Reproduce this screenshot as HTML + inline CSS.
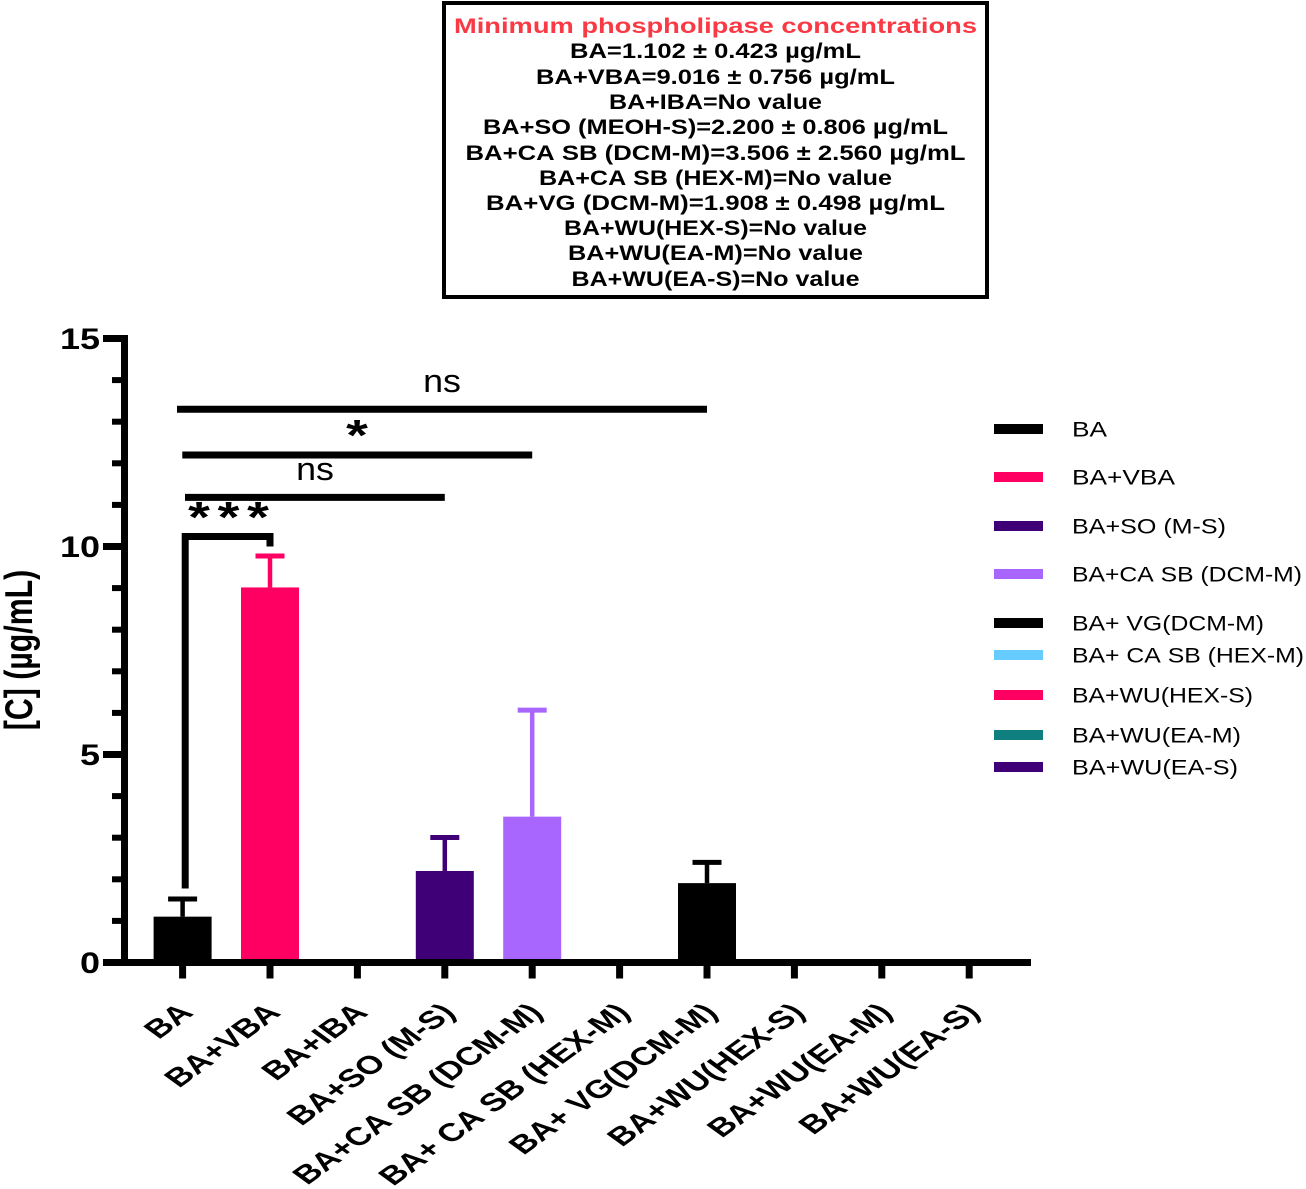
<!DOCTYPE html>
<html lang="en">
<head>
<meta charset="utf-8">
<title>Minimum phospholipase concentrations</title>
<style>
html,body{margin:0;padding:0;background:#fff}
svg{display:block}
text{font-family:"Liberation Sans",Arial,sans-serif;fill:#000;font-kerning:none}
</style>
</head>
<body>
<svg id="chart" xmlns="http://www.w3.org/2000/svg" width="1306" height="1189" viewBox="0 0 1306 1189">
  <rect x="0" y="0" width="1306" height="1189" fill="#fff"/>
  <g font-weight="700" font-size="21" text-anchor="middle">
    <rect x="444" y="3" width="543" height="294" fill="#fff" stroke="#000" stroke-width="4"/>
    <g transform="translate(0,0.8)">
    <text x="715.5" y="32" textLength="523" lengthAdjust="spacingAndGlyphs" style="fill:#f93a45">Minimum phospholipase concentrations</text>
    <text x="715.5" y="57" textLength="291" lengthAdjust="spacingAndGlyphs">BA=1.102 ± 0.423 µg/mL</text>
    <text x="715.5" y="83" textLength="359" lengthAdjust="spacingAndGlyphs">BA+VBA=9.016 ± 0.756 µg/mL</text>
    <text x="715.5" y="108" textLength="213" lengthAdjust="spacingAndGlyphs">BA+IBA=No value</text>
    <text x="715.5" y="133" textLength="465" lengthAdjust="spacingAndGlyphs">BA+SO (MEOH-S)=2.200 ± 0.806 µg/mL</text>
    <text x="715.5" y="159" textLength="500" lengthAdjust="spacingAndGlyphs">BA+CA SB (DCM-M)=3.506 ± 2.560 µg/mL</text>
    <text x="715.5" y="184" textLength="353" lengthAdjust="spacingAndGlyphs">BA+CA SB (HEX-M)=No value</text>
    <text x="715.5" y="209" textLength="459" lengthAdjust="spacingAndGlyphs">BA+VG (DCM-M)=1.908 ± 0.498 µg/mL</text>
    <text x="715.5" y="234" textLength="303" lengthAdjust="spacingAndGlyphs">BA+WU(HEX-S)=No value</text>
    <text x="715.5" y="259" textLength="295" lengthAdjust="spacingAndGlyphs">BA+WU(EA-M)=No value</text>
    <text x="715.5" y="285" textLength="288" lengthAdjust="spacingAndGlyphs">BA+WU(EA-S)=No value</text>
    </g>
  </g>
  <g id="plot"></g>
  <g id="legend" font-size="21">
    <rect x="994" y="424" width="49" height="10" fill="#000000"/>
    <text x="1072" y="436.5" textLength="35" lengthAdjust="spacingAndGlyphs">BA</text>
    <rect x="994" y="472" width="49" height="10" fill="#ff0062"/>
    <text x="1072" y="484.5" textLength="103" lengthAdjust="spacingAndGlyphs">BA+VBA</text>
    <rect x="994" y="521" width="49" height="10" fill="#3f0077"/>
    <text x="1072" y="533.5" textLength="154" lengthAdjust="spacingAndGlyphs">BA+SO (M-S)</text>
    <rect x="994" y="569" width="49" height="10" fill="#a866ff"/>
    <text x="1072" y="581.5" textLength="230" lengthAdjust="spacingAndGlyphs">BA+CA SB (DCM-M)</text>
    <rect x="994" y="618" width="49" height="10" fill="#000000"/>
    <text x="1072" y="630.5" textLength="192" lengthAdjust="spacingAndGlyphs">BA+ VG(DCM-M)</text>
    <rect x="994" y="650" width="49" height="10" fill="#66ccff"/>
    <text x="1072" y="662.5" textLength="232" lengthAdjust="spacingAndGlyphs">BA+ CA SB (HEX-M)</text>
    <rect x="994" y="690" width="49" height="10" fill="#ff0062"/>
    <text x="1072" y="702.5" textLength="181" lengthAdjust="spacingAndGlyphs">BA+WU(HEX-S)</text>
    <rect x="994" y="730" width="49" height="10" fill="#0f7f7f"/>
    <text x="1072" y="742.5" textLength="169" lengthAdjust="spacingAndGlyphs">BA+WU(EA-M)</text>
    <rect x="994" y="762" width="49" height="10" fill="#3f0077"/>
    <text x="1072" y="774.5" textLength="166" lengthAdjust="spacingAndGlyphs">BA+WU(EA-S)</text>
  </g>
</svg>
<script>
// ---- chart data ----
const categories = ['BA','BA+VBA','BA+IBA','BA+SO (M-S)','BA+CA SB (DCM-M)','BA+ CA SB (HEX-M)','BA+ VG(DCM-M)','BA+WU(HEX-S)','BA+WU(EA-M)','BA+WU(EA-S)'];
const means = [1.102, 9.016, 0, 2.200, 3.506, 0, 1.908, 0, 0, 0];
const errors = [0.423, 0.756, 0, 0.806, 2.560, 0, 0.498, 0, 0, 0];
const barColors = ['#000000','#ff0062','#000000','#3f0077','#a866ff','#66ccff','#000000','#ff0062','#0f7f7f','#3f0077'];
const yMajorTicks = [0, 5, 10, 15];
const yMinorTicks = [1, 2, 3, 4, 6, 7, 8, 9, 11, 12, 13, 14];
const sigLabels = ['ns', '*', 'ns', '***'];
const sigLevels = [13.3, 12.2, 11.18, 10.24];
const sigEnds = [6, 4, 3, 1];

// ---- axis functions ----
const NS = 'http://www.w3.org/2000/svg';
const Y0 = 962.5, Y_UNIT = 41.6, X0 = 182.6, X_STEP = 87.4, STRETCH = 1.27;
function yScale(v){ return Y0 - v * Y_UNIT; }
function xScale(i){ return X0 + i * X_STEP; }
function mk(parent, tag, attrs, txt){
  const el = document.createElementNS(NS, tag);
  for (const k in attrs) el.setAttribute(k, attrs[k]);
  if (txt !== undefined) el.textContent = txt;
  parent.appendChild(el);
  return el;
}
const plot = document.getElementById('plot');
let el;

// bars and error bars
categories.forEach(function(c, i){
  if (means[i] <= 0) return;
  const x = xScale(i), top = yScale(means[i]), capY = yScale(means[i] + errors[i]);
  el = mk(plot, 'rect', {x: x - 29, y: top, width: 58, height: Y0 - top, fill: barColors[i]});
  
  
  el = mk(plot, 'line', {x1: x, x2: x, y1: top, y2: capY, stroke: barColors[i], 'stroke-width': 4.5});
  
  
  el = mk(plot, 'line', {x1: x - 14.5, x2: x + 14.5, y1: capY, y2: capY, stroke: barColors[i], 'stroke-width': 5});
  
  
});

// axes
el = mk(plot, 'rect', {x: 121, y: 335, width: 7, height: 631, fill: '#000'});


el = mk(plot, 'rect', {x: 103, y: Y0 - 3.5, width: 928, height: 7, fill: '#000'});



yMajorTicks.forEach(function(v){
  const y = yScale(v);
  el = mk(plot, 'rect', {x: 103, y: y - 3.5, width: 18, height: 7, fill: '#000'});
  
  
  el = mk(plot, 'text', {transform: 'translate(100,' + (y + 10.5) + ') scale(1.2,1)', 'text-anchor': 'end', 'font-size': 30, 'font-weight': 700}, String(v));
  
  
});
yMinorTicks.forEach(function(v){
  el = mk(plot, 'rect', {x: 112, y: yScale(v) - 3, width: 9, height: 6, fill: '#000'});
  
  
});
categories.forEach(function(c, i){
  const x = xScale(i);
  el = mk(plot, 'rect', {x: x - 3.5, y: 966, width: 7, height: 12.5, fill: '#000'});
  
  
  el = mk(plot, 'text', {transform: 'translate(' + (x + 12) + ',1014) scale(1.38,1) rotate(-45)', 'text-anchor': 'end', 'font-size': 25.5, 'font-weight': 700}, c);
  
  
});

// y-axis title
el = mk(plot, 'text', {transform: 'translate(32,650) scale(' + STRETCH + ',1) rotate(-90)', 'text-anchor': 'middle', 'font-size': 30.3, 'font-weight': 700}, '[C] (µg/mL)');



// significance markers
const lineStarts = [177, 182.3, 185];
sigLevels.forEach(function(level, i){
  const y = yScale(level), xEnd = xScale(sigEnds[i]);
  if (i < 3) {
    el = mk(plot, 'line', {x1: lineStarts[i], x2: xEnd, y1: y, y2: y, stroke: '#000', 'stroke-width': 7});
    
    
  } else {
    el = mk(plot, 'path', {d: 'M' + (xScale(0) + 2.6) + ' ' + yScale(1.78) + 'V' + y + 'H' + xEnd + 'V' + (y + 10), fill: 'none', stroke: '#000', 'stroke-width': 7});
    
    
  }
});
el = mk(plot, 'text', {transform: 'translate(442,392) scale(1.12,1)', 'text-anchor': 'middle', 'font-size': 32}, sigLabels[0]);


el = mk(plot, 'text', {transform: 'translate(357,450) scale(' + STRETCH + ',1)', 'text-anchor': 'middle', 'font-size': 44, 'font-weight': 700}, sigLabels[1]);


el = mk(plot, 'text', {transform: 'translate(315,480) scale(1.12,1)', 'text-anchor': 'middle', 'font-size': 32}, sigLabels[2]);


sigLabels[3].split('').forEach(function(s, i){
  el = mk(plot, 'text', {transform: 'translate(' + (199 + i * 29.5) + ',532) scale(' + STRETCH + ',1)', 'text-anchor': 'middle', 'font-size': 44, 'font-weight': 700}, s);
  
  
});
</script>
</body>
</html>
